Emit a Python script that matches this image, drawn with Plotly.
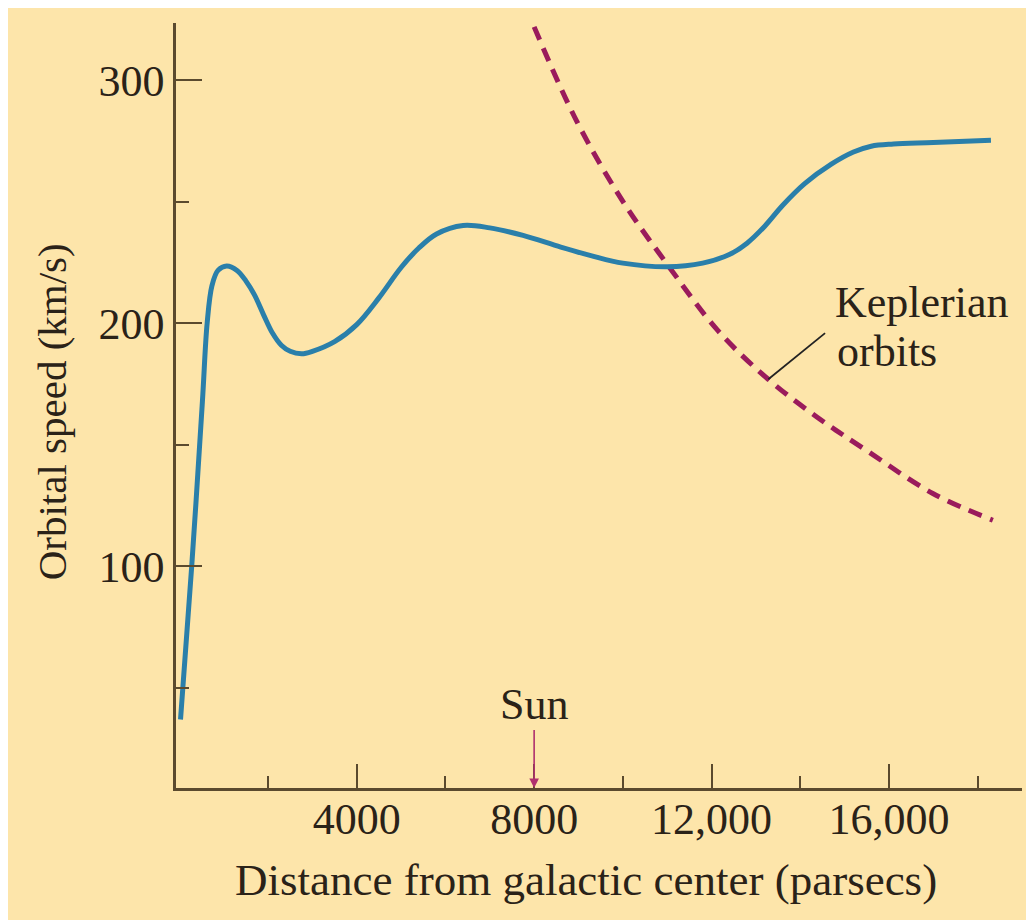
import plotly.graph_objects as go

# ---- data ----
rot_r = [27, 279, 521, 627, 737, 872, 1068, 1300, 1500, 1700, 1900, 2100, 2300, 2500,
         2759, 3000, 3500, 4000, 4500, 5000, 5400, 5800, 6400, 7000, 7750, 8600,
         9300, 10000, 11000, 11800, 12400, 12800, 13200, 13600, 14100, 14700,
         15200, 15600, 16100, 17000, 18300]
rot_v = [37, 100, 168, 200, 215.6, 221.8, 223.6, 221.8, 217.5, 211.5, 203.5, 196, 191, 188.5,
         187.5, 188.5, 192.5, 199.5, 210.5, 223, 231, 236.8, 240.3, 239.3, 236.2, 231.4,
         227.8, 224.8, 223.3, 224.8, 228.3, 233, 240, 248.5, 257.5, 265.5,
         270.5, 272.9, 273.8, 274.4, 275.4]

kep_r = [8000, 8965, 10000, 11017, 12140, 13271, 14390, 15496, 16990, 18343]
kep_v = [322, 283, 250.2, 223.9, 197.1, 177.1, 161.3, 147.7, 130, 119]

x_tickvals = [4000, 8000, 12000, 16000]
x_ticktext = ["4000", "8000", "12,000", "16,000"]
x_minor = [2000, 6000, 10000, 14000, 18000]
y_tickvals = [100, 200, 300]
y_minor = [50, 150, 250]

sun_r = 8000
leader = [(13280, 177), (14560, 196)]

BG = "#FDE5AA"
AX = "#5B4A2E"
BLUE = "#2A7FAA"
MAG = "#9A1B5C"
TXT = "#2a2218"
FONT = "Liberation Serif"
FS = 44

fig = go.Figure()
fig.add_trace(go.Scatter(x=kep_r, y=kep_v, mode="lines",
                         line=dict(color=MAG, width=5, dash="14px,9px", shape="spline", smoothing=1.0),
                         hoverinfo="skip"))
fig.add_trace(go.Scatter(x=rot_r, y=rot_v, mode="lines",
                         line=dict(color=BLUE, width=5, shape="spline", smoothing=1.0),
                         hoverinfo="skip"))

# leader line for Keplerian label
fig.add_shape(type="line", xref="x", yref="y",
              x0=leader[0][0], y0=leader[0][1], x1=leader[1][0], y1=leader[1][1],
              line=dict(color="#222222", width=1.8))

fig.add_annotation(x=sun_r, y=8.8, xref="x", yref="y", text="Sun",
                   showarrow=True, ax=0, ay=-84, arrowhead=2, arrowsize=1.2, arrowwidth=1.6,
                   arrowcolor="#B0306E", font=dict(family=FONT, size=FS, color=TXT))

fig.add_annotation(x=14736, y=208.6, xref="x", yref="y", text="Keplerian", showarrow=False,
                   xanchor="left", yanchor="middle", font=dict(family=FONT, size=FS, color=TXT))
fig.add_annotation(x=14780, y=188.3, xref="x", yref="y", text="orbits", showarrow=False,
                   xanchor="left", yanchor="middle", font=dict(family=FONT, size=FS, color=TXT))

# axis titles
fig.add_annotation(x=(586 - 176) / 846, y=-(880 - 787.7) / 765, xref="paper", yref="paper",
                   text="Distance from galactic center (parsecs)", showarrow=False,
                   xanchor="center", yanchor="middle", font=dict(family=FONT, size=45, color=TXT))
fig.add_annotation(x=-(176 - 52) / 846, y=(787.7 - 412) / 765, xref="paper", yref="paper",
                   text="Orbital speed (km/s)", showarrow=False, textangle=-90,
                   xanchor="center", yanchor="middle", font=dict(family=FONT, size=41, color=TXT))

fig.update_layout(
    width=1034, height=920,
    margin=dict(l=168, r=20, t=15, b=140),
    paper_bgcolor=BG, plot_bgcolor=BG,
    showlegend=False,
    font=dict(family=FONT, size=FS, color=TXT),
)
fig.update_xaxes(range=[-75, 19000], showgrid=False, zeroline=False,
                 showline=True, linecolor=AX, linewidth=2.5,
                 tickmode="array", tickvals=x_tickvals, ticktext=x_ticktext,
                 ticks="inside", ticklen=24, tickwidth=2.2, tickcolor=AX,
                 ticklabelstandoff=-10,
                 minor=dict(tickmode="array", tickvals=x_minor, ticks="inside",
                            ticklen=12, tickwidth=2.2, tickcolor=AX),
                 tickfont=dict(family=FONT, size=FS, color=TXT))
fig.update_yaxes(range=[8.8, 323.6], showgrid=False, zeroline=False,
                 showline=True, linecolor=AX, linewidth=2.5,
                 tickmode="array", tickvals=y_tickvals,
                 ticks="inside", ticklen=26, tickwidth=2.2, tickcolor=AX,
                 minor=dict(tickmode="array", tickvals=y_minor, ticks="inside",
                            ticklen=13, tickwidth=2.2, tickcolor=AX),
                 tickfont=dict(family=FONT, size=FS, color=TXT))

fig.write_html("out.html")
